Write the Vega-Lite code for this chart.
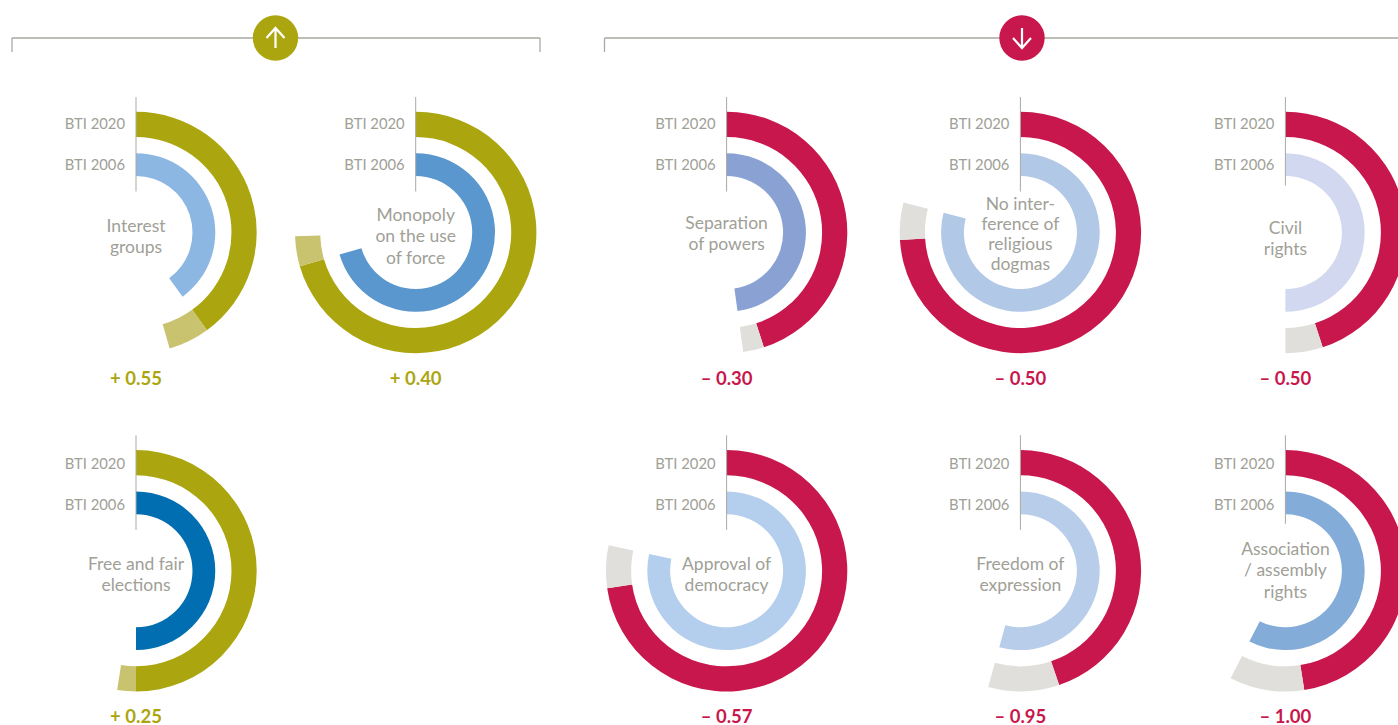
{"$schema":"https://vega.github.io/schema/vega-lite/v6.json","width":1398,"height":725,"padding":0,"autosize":{"type":"fit","contains":"padding"},"background":"white","config":{"view":{"stroke":null},"text":{"font":"Lato"}},
"datasets":{
"arcs":[
{"indicator":"Interest groups","col":1,"row":1,"ring":"2020","series":"Rise","from":0,"to":4.0},{"indicator":"Interest groups","col":1,"row":1,"ring":"2020","series":"Rise change","from":4.0,"to":4.55},{"indicator":"Interest groups","col":1,"row":1,"ring":"2006","series":"Interest groups","from":0,"to":4.0},
{"indicator":"Monopoly","col":2,"row":1,"ring":"2020","series":"Rise","from":0,"to":7.05},{"indicator":"Monopoly","col":2,"row":1,"ring":"2020","series":"Rise change","from":7.05,"to":7.45},{"indicator":"Monopoly","col":2,"row":1,"ring":"2006","series":"Monopoly","from":0,"to":7.05},
{"indicator":"Free and fair","col":1,"row":2,"ring":"2020","series":"Rise","from":0,"to":5.0},{"indicator":"Free and fair","col":1,"row":2,"ring":"2020","series":"Rise change","from":5.0,"to":5.25},{"indicator":"Free and fair","col":1,"row":2,"ring":"2006","series":"Free and fair","from":0,"to":5.0},
{"indicator":"Separation","col":3,"row":1,"ring":"2020","series":"Fall","from":0,"to":4.5},{"indicator":"Separation","col":3,"row":1,"ring":"2020","series":"Fall change","from":4.5,"to":4.78},{"indicator":"Separation","col":3,"row":1,"ring":"2006","series":"Separation","from":0,"to":4.78},
{"indicator":"No interference","col":4,"row":1,"ring":"2020","series":"Fall","from":0,"to":7.4},{"indicator":"No interference","col":4,"row":1,"ring":"2020","series":"Fall change","from":7.4,"to":7.9},{"indicator":"No interference","col":4,"row":1,"ring":"2006","series":"No interference","from":0,"to":7.9},
{"indicator":"Civil rights","col":5,"row":1,"ring":"2020","series":"Fall","from":0,"to":4.5},{"indicator":"Civil rights","col":5,"row":1,"ring":"2020","series":"Fall change","from":4.5,"to":5.0},{"indicator":"Civil rights","col":5,"row":1,"ring":"2006","series":"Civil rights","from":0,"to":5.0},
{"indicator":"Approval","col":3,"row":2,"ring":"2020","series":"Fall","from":0,"to":7.27},{"indicator":"Approval","col":3,"row":2,"ring":"2020","series":"Fall change","from":7.27,"to":7.84},{"indicator":"Approval","col":3,"row":2,"ring":"2006","series":"Approval","from":0,"to":7.84},
{"indicator":"Freedom","col":4,"row":2,"ring":"2020","series":"Fall","from":0,"to":4.48},{"indicator":"Freedom","col":4,"row":2,"ring":"2020","series":"Fall change","from":4.48,"to":5.43},{"indicator":"Freedom","col":4,"row":2,"ring":"2006","series":"Freedom","from":0,"to":5.43},
{"indicator":"Association","col":5,"row":2,"ring":"2020","series":"Fall","from":0,"to":4.75},{"indicator":"Association","col":5,"row":2,"ring":"2020","series":"Fall change","from":4.75,"to":5.75},{"indicator":"Association","col":5,"row":2,"ring":"2006","series":"Association","from":0,"to":5.75}
],
"panels":[
{"indicator":"Interest groups","col":1,"row":1,"direction":"Rise","change":"+ 0.55","label":"Interest\ngroups","place":"b"},
{"indicator":"Monopoly","col":2,"row":1,"direction":"Rise","change":"+ 0.40","label":"Monopoly\non the use\nof force","place":"f"},
{"indicator":"Free and fair","col":1,"row":2,"direction":"Rise","change":"+ 0.25","label":"Free and fair\nelections","place":"b"},
{"indicator":"Separation","col":3,"row":1,"direction":"Fall","change":"– 0.30","label":"Separation\nof powers","place":"c"},
{"indicator":"No interference","col":4,"row":1,"direction":"Fall","change":"– 0.50","label":"No inter-\nference of\nreligious\ndogmas","place":"d"},
{"indicator":"Civil rights","col":5,"row":1,"direction":"Fall","change":"– 0.50","label":"Civil\nrights","place":"a"},
{"indicator":"Approval","col":3,"row":2,"direction":"Fall","change":"– 0.57","label":"Approval of\ndemocracy","place":"b"},
{"indicator":"Freedom","col":4,"row":2,"direction":"Fall","change":"– 0.95","label":"Freedom of\nexpression","place":"b"},
{"indicator":"Association","col":5,"row":2,"direction":"Fall","change":"– 1.00","label":"Association\n/ assembly\nrights","place":"e"}
],
"brackets":[
{"x":12,"x2":540,"y":38,"y2":38},{"x":12,"x2":12,"y":38,"y2":52},{"x":540,"x2":540,"y":38,"y2":52},
{"x":604.5,"x2":1398,"y":38,"y2":38},{"x":604.5,"x2":604.5,"y":38,"y2":52}
],
"badges":[{"direction":"Rise","x":275.5,"y":38},{"direction":"Fall","x":1022,"y":38}]
},
"layer":[
{"data":{"name":"brackets"},"mark":{"type":"rule","color":"#a9a9a2","strokeWidth":1.3},"encoding":{"x":{"field":"x","type":"quantitative","axis":null,"scale":{"domain":[0,1398],"range":[0,1398],"nice":false,"zero":false}},"x2":{"field":"x2"},"y":{"field":"y","type":"quantitative","axis":null,"scale":{"domain":[0,725],"range":[0,725],"nice":false,"zero":false}},"y2":{"field":"y2"}}},
{"data":{"name":"badges"},"mark":{"type":"point","filled":true,"shape":"circle","size":2060,"opacity":1},"encoding":{"x":{"field":"x","type":"quantitative","axis":null,"scale":{"domain":[0,1398],"range":[0,1398],"nice":false,"zero":false}},"y":{"field":"y","type":"quantitative","axis":null,"scale":{"domain":[0,725],"range":[0,725],"nice":false,"zero":false}},"color":{"field":"direction","type":"nominal","legend":null,"scale":{"domain":["Rise","Fall"],"range":["#aba60f","#c7174c"]}}}},
{"data":{"name":"badges"},"transform":[{"filter":"datum.direction==='Rise'"}],"mark":{"type":"point","filled":false,"shape":"M0,1L0,-1M-0.9,0L0,-1L0.9,0","size":400,"stroke":"white","strokeWidth":2.2,"opacity":1},"encoding":{"x":{"field":"x","type":"quantitative","axis":null,"scale":{"domain":[0,1398],"range":[0,1398],"nice":false,"zero":false}},"y":{"field":"y","type":"quantitative","axis":null,"scale":{"domain":[0,725],"range":[0,725],"nice":false,"zero":false}}}},
{"data":{"name":"badges"},"transform":[{"filter":"datum.direction==='Fall'"}],"mark":{"type":"point","filled":false,"shape":"M0,-1L0,1M-0.9,0L0,1L0.9,0","size":400,"stroke":"white","strokeWidth":2.2,"opacity":1},"encoding":{"x":{"field":"x","type":"quantitative","axis":null,"scale":{"domain":[0,1398],"range":[0,1398],"nice":false,"zero":false}},"y":{"field":"y","type":"quantitative","axis":null,"scale":{"domain":[0,725],"range":[0,725],"nice":false,"zero":false}}}},
{"data":{"name":"arcs"},"transform":[{"filter":"datum.ring==='2020'"}],"mark":{"type":"arc","radius":120.7,"radius2":95.5},"encoding":{"x":{"field":"col","type":"quantitative","axis":null,"scale":{"domain":[1,2,3,4,5],"range":[136,415.7,726.6,1020.4,1285.4],"nice":false,"zero":false}},"y":{"field":"row","type":"quantitative","axis":null,"scale":{"domain":[1,2],"range":[232.5,570.8],"nice":false,"zero":false}},"theta":{"field":"from","type":"quantitative","stack":null,"scale":{"domain":[0,10],"range":[0,6.283185]}},"theta2":{"field":"to"},"color":{"field":"series","type":"nominal","legend":null,"scale":{"domain":["Rise","Rise change","Fall","Fall change"],"range":["#aba60f","#c9c36f","#c7174c","#e0dfdb"]}}}},
{"data":{"name":"arcs"},"transform":[{"filter":"datum.ring==='2006'"}],"mark":{"type":"arc","radius":79.3,"radius2":56.5},"encoding":{"x":{"field":"col","type":"quantitative","axis":null,"scale":{"domain":[1,2,3,4,5],"range":[136,415.7,726.6,1020.4,1285.4],"nice":false,"zero":false}},"y":{"field":"row","type":"quantitative","axis":null,"scale":{"domain":[1,2],"range":[232.5,570.8],"nice":false,"zero":false}},"theta":{"field":"from","type":"quantitative","stack":null,"scale":{"domain":[0,10],"range":[0,6.283185]}},"theta2":{"field":"to"},"color":{"field":"series","type":"nominal","legend":null,"scale":{"domain":["Interest groups","Monopoly","Free and fair","Separation","No interference","Civil rights","Approval","Freedom","Association"],"range":["#8db7e3","#5a97ce","#006eb0","#89a1d3","#b1c8e7","#d2d8f0","#b4ceee","#b7cde9","#84acd9"]}}}},
{"data":{"name":"panels"},"transform":[{"filter":"datum.indicator!=='Civil rights' && datum.indicator!=='Association'"}],"mark":{"type":"rule","color":"#a9a9a2","strokeWidth":1,"yOffset":-135.5,"y2Offset":-41},"encoding":{"x":{"field":"col","type":"quantitative","axis":null,"scale":{"domain":[1,2,3,4,5],"range":[136,415.7,726.6,1020.4,1285.4],"nice":false,"zero":false}},"y":{"field":"row","type":"quantitative","axis":null,"scale":{"domain":[1,2],"range":[232.5,570.8],"nice":false,"zero":false}},"y2":{"field":"row"}}},
{"data":{"name":"panels"},"transform":[{"filter":"datum.indicator==='Civil rights' || datum.indicator==='Association'"}],"mark":{"type":"rule","color":"#a9a9a2","strokeWidth":1,"yOffset":-135.5,"y2Offset":-47},"encoding":{"x":{"field":"col","type":"quantitative","axis":null,"scale":{"domain":[1,2,3,4,5],"range":[136,415.7,726.6,1020.4,1285.4],"nice":false,"zero":false}},"y":{"field":"row","type":"quantitative","axis":null,"scale":{"domain":[1,2],"range":[232.5,570.8],"nice":false,"zero":false}},"y2":{"field":"row"}}},
{"data":{"name":"panels"},"mark":{"type":"text","align":"right","baseline":"middle","dx":-11,"fontSize":14.8,"color":"#a0a097"},"encoding":{"text":{"value":"BTI 2020"},"x":{"field":"col","type":"quantitative","axis":null,"scale":{"domain":[1,2,3,4,5],"range":[136,415.7,726.6,1020.4,1285.4],"nice":false,"zero":false}},"y":{"field":"row","type":"quantitative","axis":null,"scale":{"domain":[1,2],"range":[125,465],"nice":false,"zero":false}}}},
{"data":{"name":"panels"},"mark":{"type":"text","align":"right","baseline":"middle","dx":-11,"fontSize":14.8,"color":"#a0a097"},"encoding":{"text":{"value":"BTI 2006"},"x":{"field":"col","type":"quantitative","axis":null,"scale":{"domain":[1,2,3,4,5],"range":[136,415.7,726.6,1020.4,1285.4],"nice":false,"zero":false}},"y":{"field":"row","type":"quantitative","axis":null,"scale":{"domain":[1,2],"range":[166,506],"nice":false,"zero":false}}}},
{"data":{"name":"panels"},"transform":[{"filter":"datum.place==='a'"}],"mark":{"type":"text","align":"center","baseline":"middle","dy":-4,"fontSize":17.5,"lineBreak":"\n","lineHeight":21.5,"color":"#a0a097"},"encoding":{"text":{"field":"label"},"x":{"field":"col","type":"quantitative","axis":null,"scale":{"domain":[1,2,3,4,5],"range":[136,415.7,726.6,1020.4,1285.4],"nice":false,"zero":false}},"y":{"field":"row","type":"quantitative","axis":null,"scale":{"domain":[1,2],"range":[232.5,570.8],"nice":false,"zero":false}}}},
{"data":{"name":"panels"},"transform":[{"filter":"datum.place==='b'"}],"mark":{"type":"text","align":"center","baseline":"middle","dy":-6,"fontSize":17.5,"lineBreak":"\n","lineHeight":21.5,"color":"#a0a097"},"encoding":{"text":{"field":"label"},"x":{"field":"col","type":"quantitative","axis":null,"scale":{"domain":[1,2,3,4,5],"range":[136,415.7,726.6,1020.4,1285.4],"nice":false,"zero":false}},"y":{"field":"row","type":"quantitative","axis":null,"scale":{"domain":[1,2],"range":[232.5,570.8],"nice":false,"zero":false}}}},
{"data":{"name":"panels"},"transform":[{"filter":"datum.place==='c'"}],"mark":{"type":"text","align":"center","baseline":"middle","dy":-8.8,"fontSize":17.5,"lineBreak":"\n","lineHeight":21.5,"color":"#a0a097"},"encoding":{"text":{"field":"label"},"x":{"field":"col","type":"quantitative","axis":null,"scale":{"domain":[1,2,3,4,5],"range":[136,415.7,726.6,1020.4,1285.4],"nice":false,"zero":false}},"y":{"field":"row","type":"quantitative","axis":null,"scale":{"domain":[1,2],"range":[232.5,570.8],"nice":false,"zero":false}}}},
{"data":{"name":"panels"},"transform":[{"filter":"datum.place==='d'"}],"mark":{"type":"text","align":"center","baseline":"middle","dy":-27.8,"fontSize":17.5,"lineBreak":"\n","lineHeight":20,"color":"#a0a097"},"encoding":{"text":{"field":"label"},"x":{"field":"col","type":"quantitative","axis":null,"scale":{"domain":[1,2,3,4,5],"range":[136,415.7,726.6,1020.4,1285.4],"nice":false,"zero":false}},"y":{"field":"row","type":"quantitative","axis":null,"scale":{"domain":[1,2],"range":[232.5,570.8],"nice":false,"zero":false}}}},
{"data":{"name":"panels"},"transform":[{"filter":"datum.place==='e'"}],"mark":{"type":"text","align":"center","baseline":"middle","dy":-21,"fontSize":17.5,"lineBreak":"\n","lineHeight":21.5,"color":"#a0a097"},"encoding":{"text":{"field":"label"},"x":{"field":"col","type":"quantitative","axis":null,"scale":{"domain":[1,2,3,4,5],"range":[136,415.7,726.6,1020.4,1285.4],"nice":false,"zero":false}},"y":{"field":"row","type":"quantitative","axis":null,"scale":{"domain":[1,2],"range":[232.5,570.8],"nice":false,"zero":false}}}},
{"data":{"name":"panels"},"transform":[{"filter":"datum.place==='f'"}],"mark":{"type":"text","align":"center","baseline":"middle","dy":-16.8,"fontSize":17.5,"lineBreak":"\n","lineHeight":21.5,"color":"#a0a097"},"encoding":{"text":{"field":"label"},"x":{"field":"col","type":"quantitative","axis":null,"scale":{"domain":[1,2,3,4,5],"range":[136,415.7,726.6,1020.4,1285.4],"nice":false,"zero":false}},"y":{"field":"row","type":"quantitative","axis":null,"scale":{"domain":[1,2],"range":[232.5,570.8],"nice":false,"zero":false}}}},
{"data":{"name":"panels"},"mark":{"type":"text","align":"center","baseline":"middle","fontSize":18.5,"fontWeight":"bold"},"encoding":{"text":{"field":"change"},"x":{"field":"col","type":"quantitative","axis":null,"scale":{"domain":[1,2,3,4,5],"range":[136,415.7,726.6,1020.4,1285.4],"nice":false,"zero":false}},"y":{"field":"row","type":"quantitative","axis":null,"scale":{"domain":[1,2],"range":[378.5,716.5],"nice":false,"zero":false}},"color":{"field":"direction","type":"nominal","legend":null,"scale":{"domain":["Rise","Fall"],"range":["#aba60f","#c7174c"]}}}}
],
"resolve":{"scale":{"x":"independent","y":"independent","color":"independent","theta":"independent"}}
}
